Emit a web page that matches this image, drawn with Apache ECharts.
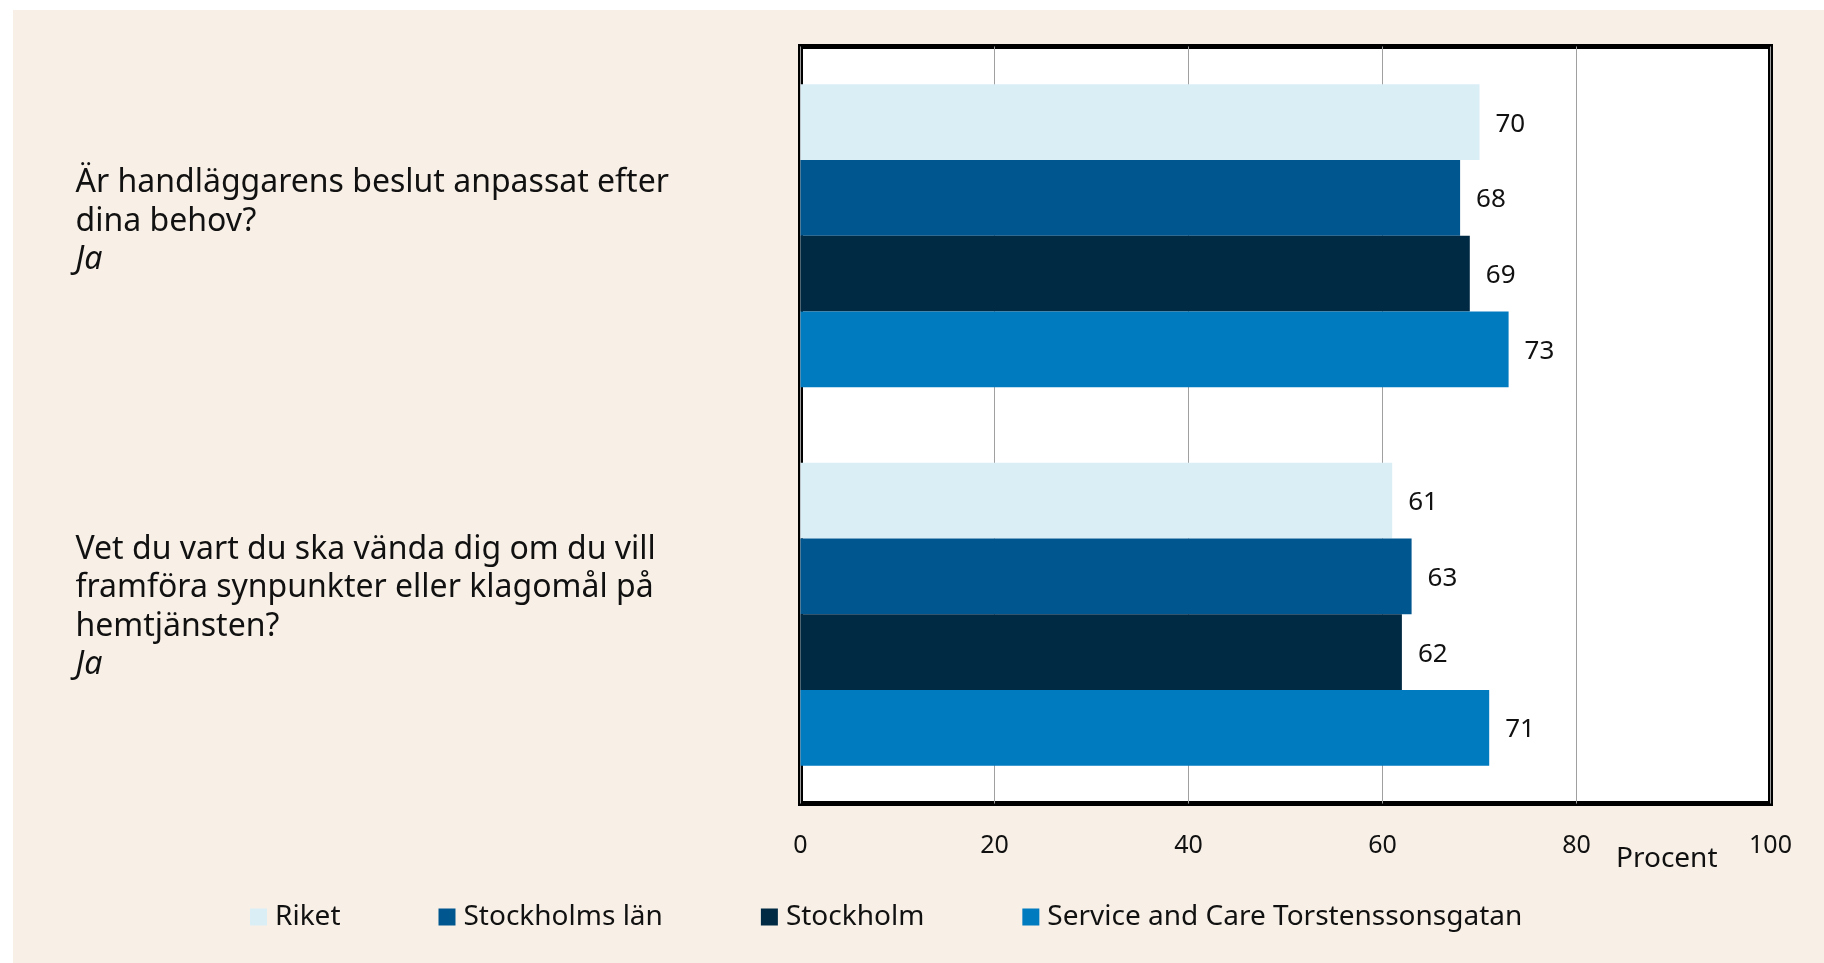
<!DOCTYPE html>
<html>
<head>
<meta charset="utf-8">
<script src="https://cdn.jsdelivr.net/npm/echarts@6/dist/echarts.min.js"></script>
<style>
  html, body { margin: 0; padding: 0; background: #fff; }
  #panel { position: absolute; left: 13px; top: 10px; width: 1811px; height: 953px; background: #f8f0e7; }
  #chart { position: absolute; left: 0; top: 0; width: 1824px; height: 963px; }
</style>
</head>
<body>
<div id="panel"></div>
<div id="chart"></div>
<script>
// frågor (kategorier)
const questions = [
  'Är handläggarens beslut anpassat efter\ndina behov?',
  'Vet du vart du ska vända dig om du vill\nframföra synpunkter eller klagomål på\nhemtjänsten?'
]
const seriesNames = ['Riket', 'Stockholms län', 'Stockholm', 'Service and Care Torstenssonsgatan']
const riket = [70, 61]
const stockholmsLan = [68, 63]
const stockholm = [69, 62]
const torstenssonsgatan = [73, 71]
const xTicks = [0, 20, 40, 60, 80, 100]
const colors = ['#daeef6', '#00578f', '#002a44', '#007bc0']

const font = '"Noto Sans", sans-serif'
const chart = echarts.init(document.getElementById('chart'))

const values = [riket, stockholmsLan, stockholm, torstenssonsgatan]
const series = values.map((vals, i) => ({
  name: seriesNames[i],
  type: 'bar',
  data: vals,
  barGap: '0%',
  barCategoryGap: '20%',
  itemStyle: { color: colors[i] },
  label: {
    show: true,
    position: 'right',
    distance: 16,
    color: '#111',
    fontFamily: font,
    fontSize: 26,
    offset: [0, 2]
  }
}))

const qStyle = { fontSize: 32, lineHeight: 38.5, color: '#111', fontFamily: font }

const option = {
  animation: false,
  color: colors,
  textStyle: { fontFamily: font },
  grid: {
    left: 800.5, top: 46.5, width: 970, height: 757,
    show: true, backgroundColor: '#fff', borderColor: '#000', borderWidth: 5,
    containLabel: false
  },
  legend: {
    left: 250, top: 900, padding: 0,
    itemWidth: 17, itemHeight: 17, itemGap: 98,
    icon: 'rect',
    textStyle: { fontFamily: font, fontSize: 28, lineHeight: 34, color: '#111', padding: [0, 0, 0, 3] },
    data: seriesNames
  },
  xAxis: {
    type: 'value',
    min: xTicks[0], max: xTicks[xTicks.length - 1], interval: 20,
    axisLine: { show: false },
    axisTick: { show: false },
    splitLine: { lineStyle: { color: '#a0a0a0', width: 1 } },
    axisLabel: { margin: 30, fontSize: 25, color: '#111', fontFamily: font }
  },
  yAxis: {
    type: 'category',
    inverse: true,
    data: questions,
    axisLine: { show: false },
    axisTick: { show: false },
    axisLabel: {
      align: 'left',
      margin: 725,
      fontSize: 32,
      lineHeight: 38.5,
      color: '#111',
      fontFamily: font,
      // tom rad sist lyfter blocket lite, som i originalet
      formatter: (v, idx) => v.split('\n').map((l) => `{q|${l}}`).join('\n') + `\n{ja|Ja}\n{pad${idx}| }`,
      rich: {
        q: { ...qStyle },
        ja: { ...qStyle, fontStyle: 'italic' },
        pad0: { fontSize: 4, lineHeight: 28 },
        pad1: { fontSize: 4, lineHeight: 14 }
      }
    }
  },
  graphic: [{
    type: 'text', left: 1616, top: 845,
    style: { text: 'Procent', fontSize: 28, fill: '#111', fontFamily: font }
  }],
  series
}
chart.setOption(option)
</script>
</body>
</html>
